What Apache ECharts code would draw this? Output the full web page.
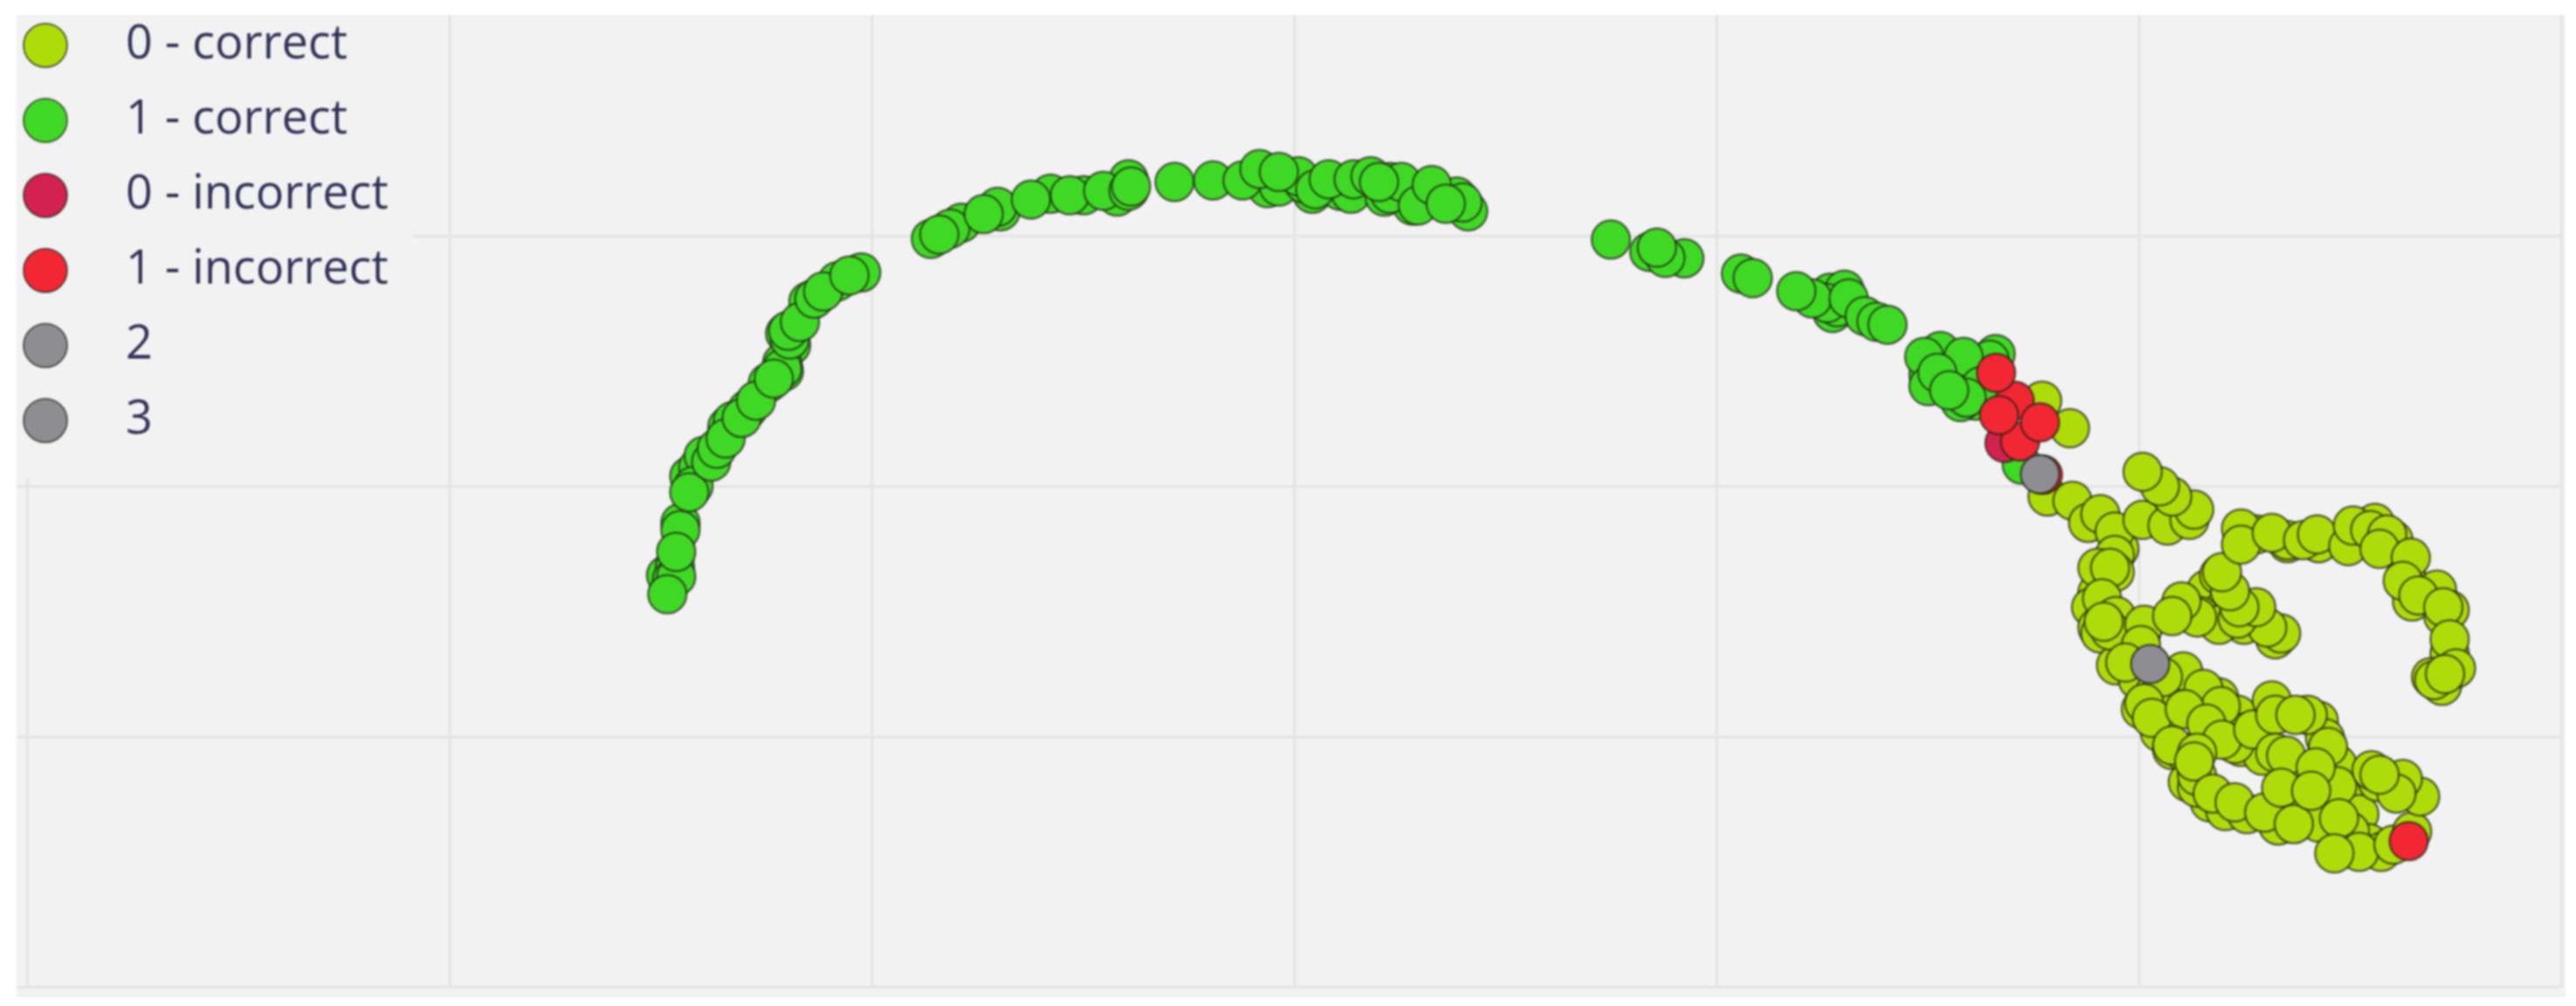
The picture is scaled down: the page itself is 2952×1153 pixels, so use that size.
<!DOCTYPE html>
<html>
<head>
<meta charset="utf-8">
<style>
  html, body { margin: 0; background: #fff; }
  #chart { position: absolute; left: 19px; top: 17px; width: 2921px; height: 1126px; filter: blur(1.1px); }
</style>
</head>
<body>
<div id="chart"></div>
<script src="https://cdn.jsdelivr.net/npm/echarts@6/dist/echarts.min.js"></script>
<script>
// 图例名称
const names = ['0 - correct', '1 - correct', '0 - incorrect', '1 - incorrect', '2', '3'];
const colors = ['#aedc0a', '#3fd925', '#d3224f', '#f22734', '#8e8e92', '#8e8e92'];

// [x, y], the axes carry no labels so one grid cell is taken as 100 units
const lime = [
  [190.2,-42.6],[188.7,-48.4],[190.2,-56.5],[195.4,-25.1],[190.9,-58.9],[196.8,-62.4],[194.6,-71.6],[200.5,-58.9],
  [199.8,-77.5],[204.2,-81],[200.5,-89.1],[205,-98.4],[207.9,-105.4],[210.9,-106.5],[211.6,-118.2],[216.8,-126.3],
  [220.5,-129.8],[225.6,-131],[233,-135.6],[238.9,-132.1],[242.6,-134.4],[248.5,-124],[252.2,-131],[254.4,-142.6],
  [257.4,-146.1],[214.6,-87.9],[219,-84.4],[223.4,-91.4],[224.9,-98.4],[224.2,-104.2],[229.3,-107.7],[232.3,-89.1],
  [242.6,-93.7],[244.1,-100.7],[247,-111.2],[243.3,-118.2],[235.2,-118.2],[256.6,-118.2],[216,-41.4],[219,-35.6],
  [220.5,-48.4],[214.5,-51.9],[224.9,-55.4],[232.3,-61.2],[260.3,-21.6],[255.9,-14.7],[252.2,-20.5],[263.3,-35.6],
  [264.7,-46.1],[272.1,-51.9],[273.6,-67],[269.2,-76.3],[271.8,-79.8],[235.2,-22.8],[242.6,-22.8],[227.8,-19.3],
  [177.1,34.1],[183.7,23.1],[178.4,-4.2],[184.3,-5.9],[188,-14.7],[190.9,-11.2],[194.3,-18.2],[200.9,-13.5],
  [206.8,-15.8],[212,-13.5],[213.1,-9.4],[207.9,-4.2],[205,-0.1],[200.9,5.7],[194.3,-27.5],[190.2,-32.7],
  [194.3,-34.4],[193.2,-32.7],[191.3,-44.9],[194.6,-51.9],[193.2,-57.7],[191.7,-54.2],[201.3,-55.4],[219,-55.4],
  [213.8,-52.5],[210.1,-46.1],[207.9,-51.9],[233.7,-58.9],[230.4,-56.5],[223.4,-53],[227.8,-48.4],[223.8,-48.4],
  [221.6,-42],[219.7,-34.4],[224.2,-17],[224.2,-23.4],[235.2,-21.6],[231.5,-18.7],[238.9,-21.6],[242.2,-19.3],
  [249.6,-24],[250.7,-15.8],[254.8,-17.6],[258.8,-19.3],[257,-25.1],[264.4,-28.6],[262.5,-37.9],[270.6,-41.4],
  [266.2,-43.7],[273.6,-49.5],[272.1,-48.4],[273.6,-61.2],[275.1,-72.8],[269.9,-77.5],[272.5,-75.1],
  [200.5,-63.5],[196.8,-70.5],[210.5,-74],[205.7,-76.3],[201.3,-86.8],[203.1,-92.6],[215.3,-81],[219.4,-87.9],
  [210.9,-89.1],[216,-94.9],[207.9,-103.6],[222.7,-103],[219.7,-101.3],[227.1,-97.2],[231.5,-85.6],[232.3,-91.4],
  [240,-91.4],[237.1,-91.4],[244.8,-104.2],[232.3,-106.5],[234.9,-107.7],[213.8,-106.5],[213.8,-120.5],[213.8,-115.8],
  [213.1,-110],[217.5,-122.8],[222.7,-126.3],[229.7,-130.4],[233.7,-120.5],[236.7,-135],[247,-119.9],[241.9,-112.4],
  [240.8,-121.7],[250,-138],[247.4,-132.7],[252.2,-146.1],[246.3,-146.7],[260.3,-143.2],[264.7,-138],[266.6,-124],
  [262.5,-117],[261,-122.8],[255.1,-113.5],[257,-115.3]
];
const green = [
  [-148.7,-35.6],[-146.6,-32.2],[-145.3,-14.7],[-143.2,3.9],[-141.1,7.4],[-139.8,12],[-134.2,23.7],[-132.9,26],
  [-129.4,30.6],[-124.6,41.1],[-119.1,56.2],[-120.5,60.9],[-115,73.7],[-108.1,81.8],
  [-78.8,105.1],[-69.5,109.7],[-57.7,116.7],[-49.8,116.1],[-41.9,115.6],[-39.2,122.5],[-6.3,119],[-1,122.5],
  [4.3,116.7],[10.9,117.9],[13.5,116.7],[22.7,121.4],[21.4,115.6],[28,112],[30.6,116.7],[38.5,115.6],
  [126.9,77.2],[130.3,78.4],[127.5,69.1],
  [-147.3,-37.4],[-146.3,-36.2],[-148.4,-43.2],[-145.3,-17.6],[-146.3,-26.3],[-142.2,0],[-143.2,-2.5],[-138,9.7],
  [-136.7,14.9],[-134.6,19],[-130.8,27.2],[-127.4,34.1],[-120.8,45.8],[-121.2,49.2],[-121.2,46.9],[-123.2,42.9],
  [-119.4,58.5],[-119.8,62],[-117,65.5],[-113.6,74.8],[-111.5,77.7],[-102.5,85.3],[-105.3,84.1],
  [-86,98.7],[-81.4,102.8],[-84,100.4],[-70.2,111.5],[-73.5,108.6],[-62.3,114.4],[-53.1,116.1],[-45.2,117.9],
  [-39.2,117.9],[-38.6,119.6],[-28.3,121.4],[-19.2,122],[-12.2,122],[-3.6,119.6],[-8.2,126.6],[2.3,120.8],[1,123.7],
  [-3.6,125.4],[5,118.5],[8.2,122.5],[14.1,122.5],[22.7,116.7],[25.4,121.4],[18.1,123.7],[20.1,121.4],[29.3,112],
  [32.6,120.2],[41.2,109.7],[39.9,113.2],[35.9,112.7],
  [75,98.4],[92.4,90.9],[84.1,93.5],[87.9,91.1],[85.9,95.2],[105.8,84.8],[108.6,83],[128.6,71.4],[126.2,73.1],
  [122.7,74.9],[118.9,77.8],[131.3,74.9],[135.1,67.9],[137.9,65.6],[140.5,64.4],
  [150.2,44.6],[156.4,49.2],[161.3,45.7],[161.3,34.1],[166.1,52.7],
  [164.7,50.4],[153,53.9],[158.5,51.6],[149.2,51.6],[162.6,39.9],[157.8,33.5],[159.2,35.3],[150.2,39.9],[152.3,45.2],
  [155.1,38.2],[172.3,8.5]
];
const crimson = [[168.2,17.2]];
const red = [[177.3,4.5],[170.6,34.1],[171.9,17.8],[176.6,25.4],[166.9,28.3],[166.2,45.2],[263.9,-141.8]];
const gray2 = [[176.6,4.7]];
const gray3 = [[202.7,-71.1]];
const seriesData = [lime, green, crimson, red, gray2, gray3];

const chartObj = echarts.init(document.getElementById('chart'));
const option = {
  backgroundColor: '#f2f2f2',
  animation: false,
  // 网格故意超出画布，这样网格线能一直画到边缘
  grid: { left: -472, top: -34, width: 3388, height: 1148, outerBoundsMode: 'none' },
  xAxis: {
    type: 'value', min: -400, max: 300, interval: 100,
    axisLine: { show: false }, axisTick: { show: false }, axisLabel: { show: false },
    splitLine: { lineStyle: { color: '#e4e4e4', width: 3 } }
  },
  yAxis: {
    type: 'value', min: -200, max: 200, interval: 100,
    axisLine: { show: false }, axisTick: { show: false }, axisLabel: { show: false },
    splitLine: { lineStyle: { color: '#e4e4e4', width: 3 } }
  },
  legend: {
    left: 0, top: 0, orient: 'vertical',
    padding: [8, 28, 39, 7],
    backgroundColor: '#f2f2f2',
    itemWidth: 50, itemHeight: 50, itemGap: 32,
    icon: 'circle',
    textStyle: { fontFamily: 'Open Sans', fontSize: 54, color: '#33335a', padding: [0, 0, 0, 62] },
    data: names
  },
  series: names.map((name, i) => ({
    name: name,
    type: 'scatter',
    symbolSize: 44,
    clip: false,
    data: seriesData[i],
    itemStyle: { color: colors[i], opacity: 1, borderColor: 'rgba(30,30,20,0.65)', borderWidth: 2.5 }
  }))
};
chartObj.setOption(option);
</script>
</body>
</html>
